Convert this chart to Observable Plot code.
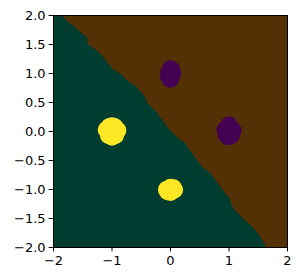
<!DOCTYPE html>
<html>
<head>
<meta charset="utf-8">
<script src="https://cdn.jsdelivr.net/npm/d3@7"></script>
<script src="https://cdn.jsdelivr.net/npm/@observablehq/plot@0.6"></script>
<style>
  html, body { margin: 0; padding: 0; background: white; }
</style>
</head>
<body>
<div id="chart"></div>
<script>
// Axis domain and ticks
const xDomain = [-2, 2];
const yDomain = [-2, 2];
const xTicks = [-2, -1, 0, 1, 2];
const yTicks = [-2.0, -1.5, -1.0, -0.5, 0.0, 0.5, 1.0, 1.5, 2.0];

// Decision boundary (x where region changes, at each y)
const boundaryY = [2.0, 1.88, 1.80, 1.71, 1.62, 1.50, 1.42, 1.31, 1.19, 1.07, 0.97, 0.88, 0.76, 0.59, 0.48, 0.36, 0.24, 0.07, -0.10, -0.21, -0.33, -0.50, -0.62, -0.73, -0.90, -1.07, -1.19, -1.31, -1.49, -1.59, -1.71, -1.83, -1.97, -2.0];
const boundaryX = [-1.85, -1.75, -1.63, -1.54, -1.42, -1.41, -1.29, -1.17, -1.08, -0.98, -0.82, -0.74, -0.57, -0.43, -0.38, -0.26, -0.17, -0.05, 0.11, 0.26, 0.34, 0.46, 0.55, 0.69, 0.82, 0.94, 1.03, 1.06, 1.23, 1.34, 1.46, 1.54, 1.63, 1.63];

// Sample points (class 0 = purple, class 1 = yellow)
const pointX = [
  -1.10, -0.90, -1.00, -1.00, -1.06, -0.94, -0.95, -1.05,
   0.00, -0.04,  0.04,  0.00,  0.03, -0.03,
   1.00,  0.93,  1.07,  0.98,  1.04,  0.95,
  -0.07,  0.07,  0.00,  0.00,  0.05, -0.05
];
const pointY = [
   0.03,  0.02,  0.10, -0.10, -0.07, -0.07,  0.08,  0.08,
   1.08,  1.00,  0.99,  0.90,  1.05,  0.94,
   0.11,  0.03,  0.02, -0.09, -0.07, -0.05,
  -1.00, -1.01, -0.96, -1.05, -0.97, -1.04
];
const pointClass = [
  1, 1, 1, 1, 1, 1, 1, 1,
  0, 0, 0, 0, 0, 0,
  0, 0, 0, 0, 0, 0,
  1, 1, 1, 1, 1, 1
];

const regionColors = { left: "#003c30", right: "#543005" };
const classColors = ["#440154", "#fde725"];

const boundary = boundaryY.map((y, i) => ({ y, x: boundaryX[i] }));
const points = pointX.map((x, i) => ({ x, y: pointY[i], c: pointClass[i] }));

const minus = s => s.replace("-", "\u2212");

const chart = Plot.plot({
  width: 300,
  height: 280,
  marginLeft: 53,
  marginRight: 13,
  marginTop: 15,
  marginBottom: 33,
  x: { domain: xDomain },
  y: { domain: yDomain },
  style: { fontFamily: "DejaVu Sans", fontSize: "13px", background: "white", color: "black" },
  marks: [
    Plot.frame({ fill: regionColors.right }),
    Plot.areaX(boundary, { y: "y", x1: () => xDomain[0], x2: "x", fill: regionColors.left }),
    Plot.dot(points, { x: "x", y: "y", r: 8.5, fill: d => classColors[d.c], stroke: null }),
    Plot.frame({ stroke: "black", strokeWidth: 1 }),
    Plot.axisX({ ticks: xTicks, tickSize: 4.4, tickPadding: 3.5, label: null, tickFormat: d => minus(d3.format("d")(d)), fontSize: 13 }),
    Plot.axisY({ ticks: yTicks, tickSize: 4.4, tickPadding: 3.5, label: null, tickFormat: d => minus(d3.format(".1f")(d)), fontSize: 13 })
  ]
});
document.getElementById("chart").appendChild(chart);
</script>
</body>
</html>
